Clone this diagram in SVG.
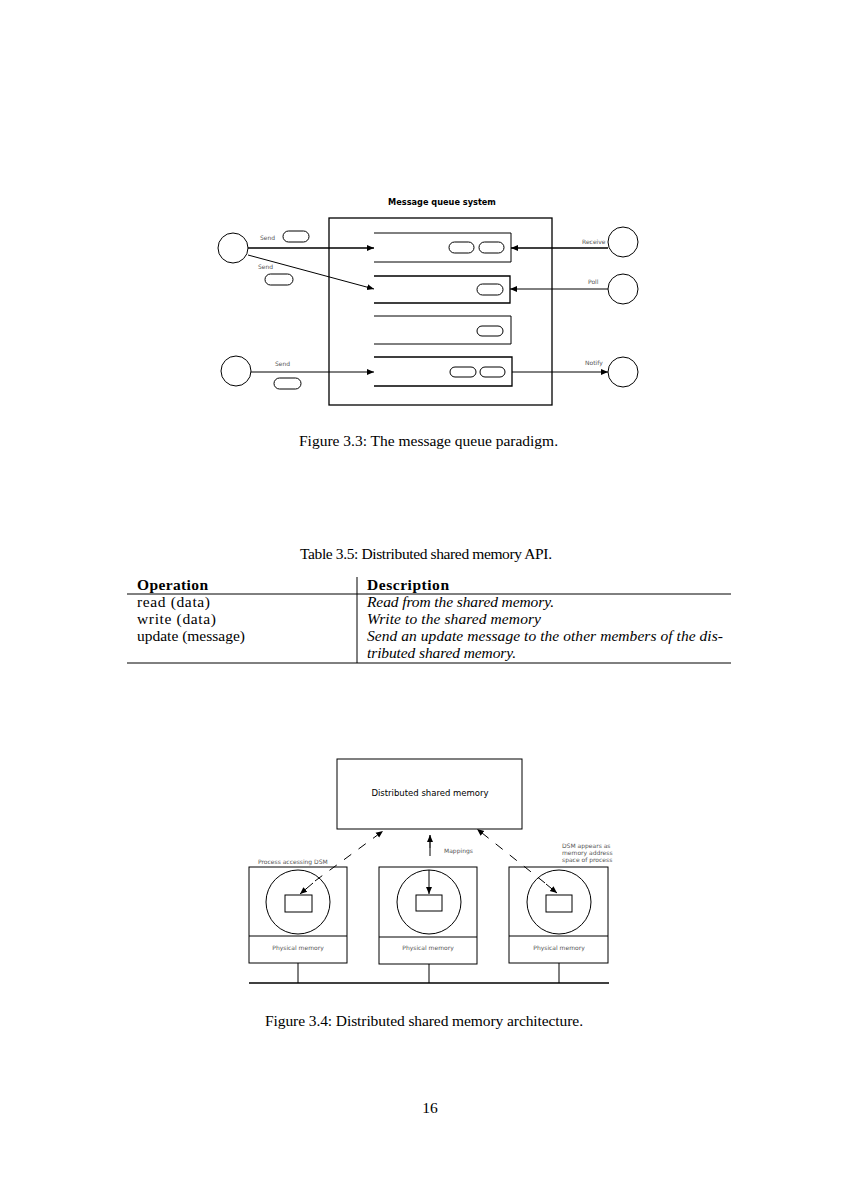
<svg xmlns="http://www.w3.org/2000/svg" width="847" height="1198" viewBox="0 0 847 1198">
<defs>
<marker id="ah" markerWidth="8" markerHeight="8" refX="7" refY="4" orient="auto" markerUnits="userSpaceOnUse">
<path d="M0,1 L7,4 L0,7 Z" fill="#000"/>
</marker>
<style>
.ln{fill:none;stroke:#000;stroke-width:1}
.tk{fill:none;stroke:#000;stroke-width:1.3}
.pill{fill:#fff;stroke:#000;stroke-width:1}
.sm{font-family:"DejaVu Sans",sans-serif;font-size:6px;fill:#555}
.cap{font-family:"Liberation Serif",serif;font-size:15.5px;fill:#000}
.it{font-style:italic}
.dash{fill:none;stroke:#000;stroke-width:1;stroke-dasharray:9,9}
</style>
</defs>
<rect width="847" height="1198" fill="#fff"/>

<!-- Figure 3.3 -->
<g id="mq-system">
<text x="442" y="205" text-anchor="middle" font-family="DejaVu Sans,sans-serif" font-size="8.2" font-weight="bold">Message queue system</text>
<rect x="329" y="218" width="223" height="187" class="tk"/>
</g>
<g id="queue1">
<path d="M374,233 H511 V262 H374" class="ln"/>
<rect x="449" y="242" width="25" height="11" rx="5.5" class="pill"/>
<rect x="479" y="242" width="25" height="11" rx="5.5" class="pill"/>
</g>
<g id="queue2">
<path d="M374,276 H510 V303 H374" class="tk"/>
<rect x="477" y="284" width="26" height="11" rx="5.5" class="pill"/>
</g>
<g id="queue3">
<path d="M374,316 H511 V344 H374" class="ln"/>
<rect x="477" y="326" width="26" height="10" rx="5" class="pill"/>
</g>
<g id="queue4">
<path d="M374,357 H512 V386 H374" class="tk"/>
<rect x="450" y="367" width="26" height="10" rx="5" class="pill"/>
<rect x="480" y="367" width="25" height="10" rx="5" class="pill"/>
</g>
<g id="sender1">
<circle cx="233" cy="248" r="15" class="ln"/>
<text x="260" y="240" class="sm">Send</text>
<rect x="283" y="231" width="26" height="11" rx="5.5" class="pill"/>
<text x="258" y="269" class="sm">Send</text>
<rect x="265" y="274" width="28" height="11" rx="5.5" class="pill"/>
</g>
<g id="sender2">
<circle cx="236" cy="371" r="15" class="ln"/>
<text x="275" y="366" class="sm">Send</text>
<rect x="274" y="378" width="27" height="11" rx="5.5" class="pill"/>
</g>
<g id="receiver">
<circle cx="623" cy="242" r="15" class="ln"/>
<text x="582" y="244" class="sm">Receive</text>
</g>
<g id="poller">
<circle cx="623" cy="289" r="15" class="ln"/>
<text x="588" y="284" class="sm">Poll</text>
</g>
<g id="notified">
<circle cx="623" cy="372" r="15" class="ln"/>
<text x="585" y="365" class="sm">Notify</text>
</g>
<g id="mq-connectors">
<line x1="248" y1="248" x2="374" y2="248" class="tk" marker-end="url(#ah)"/>
<line x1="248" y1="255" x2="374" y2="289" class="ln" marker-end="url(#ah)"/>
<line x1="251" y1="372" x2="374" y2="372" class="ln" marker-end="url(#ah)"/>
<line x1="608" y1="248" x2="511" y2="248" class="tk" marker-end="url(#ah)"/>
<line x1="608" y1="289" x2="510" y2="289" class="ln" marker-end="url(#ah)"/>
<line x1="512" y1="372" x2="608" y2="372" class="ln" marker-end="url(#ah)"/>
</g>
<text x="299" y="446" class="cap" textLength="259" lengthAdjust="spacing">Figure 3.3: The message queue paradigm.</text>

<!-- Table 3.5 -->
<g id="table">
<text x="300" y="559" class="cap" textLength="252" lengthAdjust="spacing">Table 3.5: Distributed shared memory API.</text>
<line x1="357" y1="577" x2="357" y2="663" class="ln"/>
<line x1="127" y1="594" x2="731" y2="594" class="ln"/>
<line x1="127" y1="663" x2="731" y2="663" class="ln"/>
<text x="137" y="590" class="cap" font-weight="bold" textLength="71" lengthAdjust="spacing">Operation</text>
<text x="367" y="590" class="cap" font-weight="bold" textLength="82" lengthAdjust="spacing">Description</text>
<text x="137" y="607" class="cap" textLength="73" lengthAdjust="spacing">read (data)</text>
<text x="137" y="624" class="cap" textLength="79" lengthAdjust="spacing">write (data)</text>
<text x="137" y="641" class="cap" textLength="108" lengthAdjust="spacing">update (message)</text>
<text x="367" y="607" class="cap it" textLength="187" lengthAdjust="spacing">Read from the shared memory.</text>
<text x="367" y="624" class="cap it" textLength="174" lengthAdjust="spacing">Write to the shared memory</text>
<text x="367" y="641" class="cap it" textLength="356" lengthAdjust="spacing">Send an update message to the other members of the dis-</text>
<text x="367" y="658" class="cap it" textLength="149" lengthAdjust="spacing">tributed shared memory.</text>
</g>

<!-- Figure 3.4 -->
<g id="dsm">
<rect x="337" y="759" width="185" height="70" class="ln"/>
<text x="430" y="796" text-anchor="middle" font-family="DejaVu Sans,sans-serif" font-size="8.5">Distributed shared memory</text>
</g>
<g id="node-left">
<rect x="249" y="867" width="98" height="96" class="ln"/>
<line x1="249" y1="936" x2="347" y2="936" class="ln"/>
<circle cx="298" cy="902" r="32" class="ln"/>
<rect x="285" y="895" width="27" height="17" class="ln"/>
<text x="298" y="950" text-anchor="middle" class="sm">Physical memory</text>
<text x="258" y="864" class="sm">Process accessing DSM</text>
</g>
<g id="node-middle">
<rect x="379" y="867" width="98" height="97" class="ln"/>
<line x1="379" y1="937" x2="477" y2="937" class="ln"/>
<circle cx="429" cy="902" r="32" class="ln"/>
<rect x="416" y="895" width="26" height="16" class="ln"/>
<text x="428" y="950" text-anchor="middle" class="sm">Physical memory</text>
<text x="444" y="853" class="sm">Mappings</text>
</g>
<g id="node-right">
<rect x="509" y="867" width="99" height="96" class="ln"/>
<line x1="509" y1="936" x2="608" y2="936" class="ln"/>
<circle cx="559" cy="902" r="32" class="ln"/>
<rect x="546" y="895" width="26" height="17" class="ln"/>
<text x="559" y="950" text-anchor="middle" class="sm">Physical memory</text>
<text x="562" y="848" class="sm">DSM appears as</text>
<text x="562" y="855" class="sm">memory address</text>
<text x="562" y="862" class="sm">space of process</text>
</g>
<g id="bus">
<line x1="249" y1="983" x2="609" y2="983" class="tk"/>
<line x1="298" y1="963" x2="298" y2="983" class="ln"/>
<line x1="429" y1="964" x2="429" y2="983" class="ln"/>
<line x1="559" y1="963" x2="559" y2="983" class="ln"/>
</g>
<g id="dsm-connectors">
<line x1="315" y1="881" x2="383" y2="831" class="dash" marker-end="url(#ah)"/>
<line x1="313" y1="883" x2="300" y2="894" class="ln" marker-end="url(#ah)"/>
<line x1="430" y1="848" x2="430" y2="835" class="tk" marker-end="url(#ah)"/>
<line x1="430" y1="848" x2="430" y2="856" class="ln"/>
<line x1="429" y1="870" x2="429" y2="894" class="ln" marker-end="url(#ah)"/>
<line x1="545" y1="883" x2="477" y2="829" class="dash" marker-end="url(#ah)"/>
<line x1="546" y1="884" x2="557" y2="893" class="ln" marker-end="url(#ah)"/>
</g>
<text x="265" y="1026" class="cap" textLength="318" lengthAdjust="spacing">Figure 3.4: Distributed shared memory architecture.</text>
<text x="430" y="1113" text-anchor="middle" class="cap">16</text>
</svg>
